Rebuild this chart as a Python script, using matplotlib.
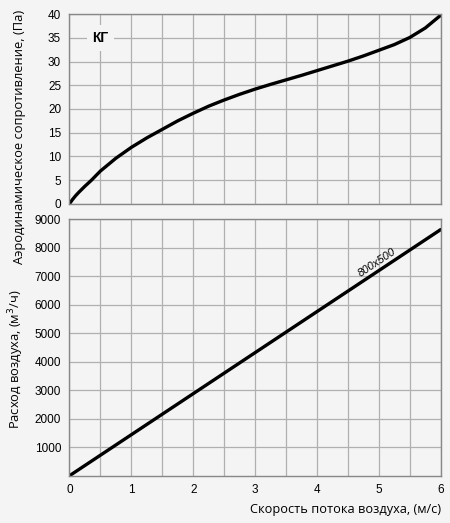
import matplotlib
matplotlib.use('Agg')
import matplotlib.pyplot as plt
import numpy as np

BG = '#f4f4f4'
GRID = '#b0b0b0'
FRAME = '#888888'

# верхний график: аэродинамическое сопротивление
speed_dp = [0, 0.05, 0.1, 0.15, 0.25, 0.35, 0.5, 0.75, 1.0, 1.25, 1.5, 1.75, 2.0, 2.25, 2.5,
            2.75, 3.0, 3.25, 3.5, 3.75, 4.0, 4.25, 4.5, 4.75, 5.0, 5.25, 5.5, 5.75, 6.0]
pressure = [0, 0.9, 1.7, 2.4, 3.7, 4.9, 6.9, 9.6, 11.9, 13.9, 15.7, 17.5, 19.1, 20.6, 21.9,
            23.1, 24.2, 25.2, 26.15, 27.1, 28.1, 29.1, 30.1, 31.2, 32.4, 33.6, 35.1, 37.1, 39.8]

# нижний график: расход воздуха
speed_q = [0, 6]
flow = [0, 8640]
model = '800x500'

x_ticks = [0, 1, 2, 3, 4, 5, 6]
dp_ticks = [0, 5, 10, 15, 20, 25, 30, 35, 40]
q_ticks = [1000, 2000, 3000, 4000, 5000, 6000, 7000, 8000, 9000]

TICK_FONT = 'Liberation Sans'
LABEL_FONT = 'Open Sans'

fig = plt.figure(figsize=(4.5, 5.23), dpi=100, facecolor=BG)
ax1 = fig.add_axes([0.1544, 0.6105, 0.825, 0.3622])
ax2 = fig.add_axes([0.1544, 0.0904, 0.825, 0.4903])

grid_x = np.arange(0, 6.01, 0.5)
for ax in (ax1, ax2):
    ax.set_facecolor(BG)
    ax.set_xlim(0, 6)
    ax.set_xticks(grid_x)
    ax.grid(True, color=GRID, linewidth=0.9)
    ax.tick_params(length=0, pad=6, labelsize=8.5)
    for s in ax.spines.values():
        s.set_color(FRAME)
        s.set_linewidth(1.0)
    ax.set_axisbelow(True)

# --- верх ---
ax1.plot(speed_dp, pressure, color='black', linewidth=2.4,
         solid_capstyle='round', solid_joinstyle='round')
ax1.set_ylim(0, 40)
ax1.set_yticks(dp_ticks)
ax1.set_xticklabels([])
ax1.set_yticklabels([str(v) for v in dp_ticks], fontfamily=TICK_FONT)
ax1.set_ylabel('Аэродинамическое сопротивление, (Па)', fontfamily=LABEL_FONT, fontsize=9.3)
ax1.yaxis.set_label_coords(-0.118, 0.352)
ax1.text(0.5, 35, 'КГ', fontsize=10, fontweight='bold', fontfamily=TICK_FONT,
         ha='center', va='center',
         bbox=dict(facecolor=BG, edgecolor='none', pad=4))

# --- низ ---
ax2.plot(speed_q, flow, color='black', linewidth=2.4, solid_capstyle='round')
ax2.set_ylim(0, 9000)
ax2.set_yticks(q_ticks)
ax2.set_yticklabels([str(v) for v in q_ticks], fontfamily=TICK_FONT)
ax2.set_xticklabels([str(int(v)) if v == int(v) else '' for v in grid_x],
                    fontfamily=TICK_FONT)
ax2.set_ylabel('Расход воздуха, (м$^3$/ч)', fontfamily=LABEL_FONT, fontsize=9.3)
ax2.yaxis.set_label_coords(-0.118, 0.455)
ax2.set_xlabel('Скорость потока воздуха, (м/с)', fontfamily=LABEL_FONT, fontsize=9.2)
ax2.xaxis.set_label_coords(1.0, -0.105)
ax2.xaxis.label.set_ha('right')

# угол подписи вдоль линии
p0 = ax2.transData.transform((0, 0))
p1 = ax2.transData.transform((6, 8640))
ang = np.degrees(np.arctan2(p1[1] - p0[1], p1[0] - p0[0]))
ax2.text(4.97, 7480, model, rotation=ang, rotation_mode='anchor',
         fontsize=8, fontstyle='italic', fontfamily=TICK_FONT,
         ha='center', va='center')

fig.savefig('out.png', dpi=100, facecolor=BG)
